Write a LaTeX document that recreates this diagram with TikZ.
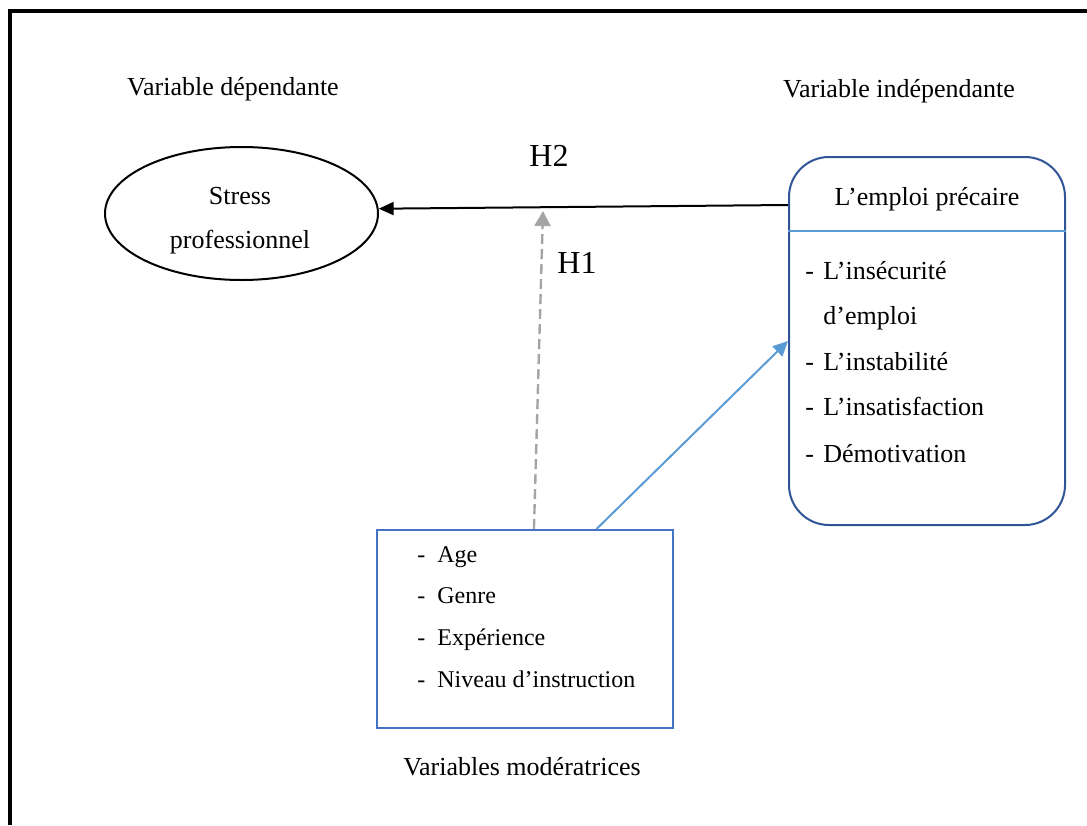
\documentclass[tikz,border=0pt]{standalone}
\usepackage{fontspec}
\setmainfont{Liberation Serif}
\usetikzlibrary{arrows.meta,calc,positioning,shapes.geometric}
\definecolor{cadreblue}{RGB}{47,85,151}
\definecolor{modblue}{RGB}{68,114,196}
\definecolor{lienblue}{RGB}{91,155,213}
\definecolor{hgray}{RGB}{165,165,165}
\newcommand{\tiret}[1][9pt]{\makebox[#1][l]{-}}

\begin{document}
\begin{tikzpicture}[x=0.5pt,y=-0.5pt,font=\fontsize{13}{15}\selectfont,
      titre/.style={inner sep=0pt,anchor=base},
      item/.style={inner sep=0pt,anchor=base west},
      hyp/.style={inner sep=0pt,anchor=base west,font=\fontsize{16}{18}\selectfont},
      fleche/.style={draw,line width=1pt,-{Triangle[length=7.5pt,width=6.5pt]}},
      pointille/.style={draw=hgray,line width=1.2pt,dash pattern=on 5pt off 2.5pt,-{Triangle[length=7.5pt,width=8pt]}},
      lien/.style={draw=lienblue,line width=1pt,-{Triangle[length=7.5pt,width=7pt]}}]
  \useasboundingbox (0,0) rectangle (1087,825);
  % cadre
  \draw[line width=2pt] (10,825) -- (10,11) -- (1087,11);

  % variable dependante
  \node[titre] (vdep) at (233,95) {Variable dépendante};
  \node[draw,ellipse,line width=1pt,inner sep=0pt,minimum width=136.5pt,minimum height=66.5pt] (stress) at (241.5,213.5) {};
  \node[titre] (stressa) at (240,204) {Stress};
  \node[titre] (stressb) at (240,248) {professionnel};

  % variable independante
  \node[titre] (vindep) at (899,97) {Variable indépendante};
  \node[draw=cadreblue,line width=1pt,rounded corners=20pt,inner sep=0pt,minimum width=138pt,minimum height=184pt] (emploi) at (927,341) {};
  \draw[lienblue,line width=0.6pt] (emploi.west |- 0,231) -- (emploi.east |- 0,231);
  \node[titre] (precaire) at (927,205) {L’emploi précaire};
  \foreach \y/\txt [count=\i] in {279/L’insécurité,370/L’instabilité,415/L’insatisfaction,462/Démotivation}
    \node[item] (dim\i) at (805,\y) {\tiret\txt};
  \node[item] (dimsuite) at (823,324) {d’emploi};

  % variables moderatrices
  \node[draw=modblue,line width=1pt,inner sep=0pt,minimum width=148pt,minimum height=99pt] (moder) at (525,629) {};
  \foreach \y/\txt [count=\i] in {562/Age,603/Genre,645/Expérience,687/Niveau d’instruction}
    \node[item,font=\fontsize{12}{14}\selectfont] (mod\i) at (417,\y) {\tiret[10pt]\txt};
  \node[titre] (vmod) at (522,775) {Variables modératrices};

  % hypotheses
  \node[hyp] (h2) at (529,166) {H2};
  \node[hyp] (h1) at (557,273) {H1};
  \coordinate (h1pt) at (543,211);

  \draw[fleche] (emploi.west |- precaire.base) -- (stress.2.5);
  \draw[pointille] ($(moder.north west)!0.53!(moder.north east)$) -- (h1pt);
  \draw[lien] ($(moder.north west)!0.74!(moder.north east)$) -- (emploi.west);
\end{tikzpicture}
\end{document}
